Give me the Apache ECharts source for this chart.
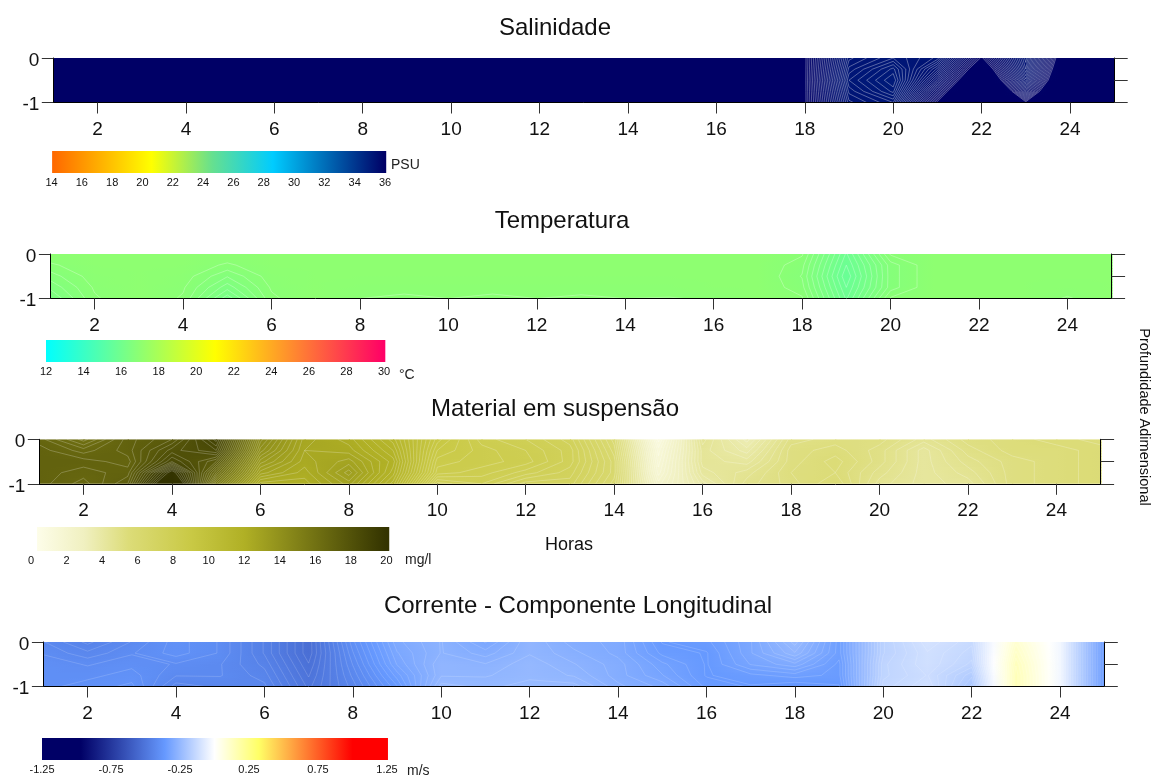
<!DOCTYPE html>
<html><head><meta charset="utf-8">
<style>html,body{margin:0;padding:0;background:#fff}#c{width:1152px;height:778px}</style>
<script src="https://cdn.jsdelivr.net/npm/echarts@6/dist/echarts.min.js"></script>
</head><body><div id="c"></div>
<script>
const hours = [1,2,3,4,5,6,7,8,9,10,11,12,13,14,15,16,17,18,19,20,21,22,23,24,25];
const depths = [0,-0.25,-0.5,-0.75,-1];
const hourTicks = [2,4,6,8,10,12,14,16,18,20,22,24];

const salinityByHour = [
[36,36,36,36,36],[36,36,36,36,36],[36,36,36,36,36],[36,36,36,36,36],[36,36,36,36,36],
[36,36,36,36,36],[36,36,36,36,36],[36,36,36,36,36],[36,36,36,36,36],[36,36,36,36,36],
[36,36,36,36,36],[36,36,36,36,36],[36,36,36,36,36],[36,36,36,36,36],[36,36,36,36,36],
[36,36,36,36,36],[36,36,36,36,36],[36,36,36,36,36],
[35.3,35.25,35.2,35.25,35.3],[35.2,35.1,35.05,35.1,35.2],[35.3,35.45,35.6,35.8,36],
[36,36.2,36.4,36.6,36.8],[35.3,35.35,35.45,35.7,36],[36.3,36.4,36.5,36.6,36.7],[36.4,36.4,36.5,36.6,36.7]];

const temperatureByHour = [
[17,16.85,16.7,16.55,16.4],[17,17,16.95,16.9,16.86],[17,17,17,17,17],[17,17,16.95,16.9,16.86],
[17,16.85,16.65,16.45,16.2],[17,17,16.95,16.9,16.85],[17,17,17,17,17],[17,17,17,16.95,16.88],
[17,17,17,16.94,16.84],[17,17,17,16.95,16.88],[17,17,17,16.94,16.84],[17,17,17,16.95,16.88],
[17,17,17,16.94,16.85],[17,17,17,16.95,16.88],[17,17,17,16.95,16.87],[17,17,17,17,16.9],
[17,17,17,17,17],[16.9,16.8,16.75,16.8,16.9],[15.9,15.8,15.7,15.8,15.9],[16.9,16.7,16.7,16.7,16.9],
[17,17,17,17,17],[17,17,17,17,17],[17,17,17,17,17],[17,17,17,16.96,16.86],[17,17,17,17,17]];

const suspendedByHour = [
[16.8,17,17,17,17],[16,16.6,17,16.8,16.6],[17,17,16.8,17,17.3],[17.5,18,18.5,20.2,21.5],
[19,18.5,17.5,16.5,15.5],[14.4,14,13.4,12.8,12],[12.6,12.5,12.4,12.2,12],[12.2,12.4,12.8,13.2,12.8],
[11.2,11.5,11.8,11.6,11.2],[9.2,8.9,8.6,8.4,7.6],[8.2,8.4,8.4,8.2,7.9],[7.9,8.1,8.2,7.8,7.2],
[7.4,7.6,7.6,7.4,7.2],[5.8,6,6.2,6.2,6],[1,1.4,1.6,1.8,2.2],[4.6,4.4,4.4,4.2,3.8],
[3.4,3.8,4.2,4.6,4.8],[5,5.2,5.2,5.3,5.2],[5.2,5.4,5.6,5.5,5.7],[5.2,5,5,4.8,4.6],
[4.6,4.2,4.2,4.2,4.2],[5.2,5,4.8,4.6,4.4],[5.4,5.4,5.2,5.2,5.2],[5.6,5.4,5.4,5.4,5.4],[5.4,5.6,5.6,5.6,5.6]];

const currentByHour = [
[-.42,-.41,-.4,-.4,-.4],[-.45,-.43,-.41,-.4,-.39],[-.42,-.41,-.4,-.39,-.38],[-.39,-.39,-.41,-.42,-.44],
[-.41,-.41,-.42,-.42,-.43],[-.46,-.46,-.45,-.44,-.43],[-.53,-.53,-.52,-.51,-.5],[-.4,-.41,-.42,-.43,-.44],
[-.3,-.31,-.32,-.34,-.36],[-.27,-.27,-.26,-.26,-.24],[-.31,-.29,-.27,-.26,-.25],[-.26,-.26,-.25,-.25,-.24],
[-.29,-.28,-.27,-.26,-.24],[-.3,-.3,-.29,-.29,-.28],[-.36,-.35,-.33,-.32,-.3],[-.35,-.36,-.36,-.36,-.35],
[-.31,-.31,-.32,-.35,-.36],[-.24,-.26,-.3,-.34,-.37],[-.34,-.34,-.35,-.35,-.36],[-.16,-.16,-.15,-.15,-.14],
[-.1,-.11,-.11,-.12,-.11],[-.13,-.14,-.15,-.18,-.2],[.1,.12,.14,.15,.15],[-.03,-.03,-.03,-.03,-.03],[-.36,-.36,-.36,-.36,-.36]];

const salinityRamp = [[14,'#ff6600'],[20.6,'#ffff00'],[24.6,'#66e08f'],[28.6,'#00ccff'],[36,'#000066']];
const temperatureRamp = [[12,'#00ffff'],[21,'#ffff00'],[30,'#ff0066']];
const suspendedRamp = [[0,'#ffffee'],[3,'#f0f0c0'],[5.5,'#dcdc78'],[9,'#c9c945'],[12,'#b0b025'],[20,'#333300']];
const currentRamp = [[-1.25,'#000066'],[-.97,'#000066'],[-.36,'#6699ff'],[0,'#ffffff'],[.32,'#ffff66'],[1,'#ff0000'],[1.25,'#ff0000']];

const salinityLegendTicks = [14,16,18,20,22,24,26,28,30,32,34,36];
const temperatureLegendTicks = [12,14,16,18,20,22,24,26,28,30];
const suspendedLegendTicks = [0,2,4,6,8,10,12,14,16,18,20];
const currentLegendTicks = [-1.25,-0.75,-0.25,0.25,0.75,1.25];

const panels = [
 {title:'Salinidade', cx:555, ty:29, data:salinityByHour, ramp:salinityRamp, ticks:salinityLegendTicks, unit:'PSU',
  g:[53.3,58,1060.9,44.5], tail:13.5, lg:[51.5,151,333.5,22], bar:[14.04,36.08],
  u:[391,165], base:36.01, step:.03, top:35.99, alpha:.38, lw:.9, dec:0},
 {title:'Temperatura', cx:562, ty:222, data:temperatureByHour, ramp:temperatureRamp, ticks:temperatureLegendTicks, unit:'°C',
  g:[50.4,254,1061.2,44.5], tail:13.5, lg:[46,340,338,22], bar:[12,30.07],
  u:[399,375], base:17, step:.12, top:16.95, alpha:.4, lw:.7, dec:0},
 {title:'Material em suspensão', cx:555, ty:410, data:suspendedByHour, ramp:suspendedRamp, ticks:suspendedLegendTicks, unit:'mg/l',
  g:[39.3,439.3,1061.3,44.5], tail:13.5, lg:[31,527,355.4,24], bar:[0.34,20.16],
  u:[405,560], base:.1, step:.2, top:19.99, alpha:.33, lw:.7, dec:0},
 {title:'Corrente - Componente Longitudinal', cx:578, ty:607, data:currentByHour, ramp:currentRamp, ticks:currentLegendTicks, unit:'m/s',
  g:[43.4,642,1060.9,44.5], tail:13.5, lg:[42,738,345,22], bar:[-1.25,1.257],
  u:[407,771], base:.004, step:.0125, top:1.25, alpha:.22, lw:.7, dec:2}
];

function hex(c){return [parseInt(c.slice(1,3),16),parseInt(c.slice(3,5),16),parseInt(c.slice(5,7),16)];}
function colorAt(ramp,v){
  if(v<=ramp[0][0]) return ramp[0][1];
  for(let i=1;i<ramp.length;i++){
    if(v<=ramp[i][0]){
      const t=(v-ramp[i-1][0])/(ramp[i][0]-ramp[i-1][0]),a=hex(ramp[i-1][1]),b=hex(ramp[i][1]);
      return 'rgb('+a.map((x,k)=>Math.round(x+(b[k]-x)*t)).join(',')+')';
    }
  }
  return ramp[ramp.length-1][1];
}
const STRIPS=4, TONES=[0,.25,.5,.75,1];
function cellItems(p){
  const out=[];
  for(let i=0;i<hours.length-1;i++)for(let j=0;j<depths.length-1;j++)out.push([hours[i],depths[j],p.data[i][j],i,j]);
  return out;
}
function fillRenderer(p){
  return function(params,api){
    const i=api.value(3),j=api.value(4);
    const tl=api.coord([hours[i],depths[j]]),br=api.coord([hours[i+1],depths[j+1]]);
    const kids=[],d=p.data;
    for(let s=0;s<STRIPS;s++){
      const f=(s+.5)/STRIPS;
      const L=d[i][j]+(d[i][j+1]-d[i][j])*f,R=d[i+1][j]+(d[i+1][j+1]-d[i+1][j])*f;
      const y0=tl[1]+(br[1]-tl[1])*s/STRIPS,h=(br[1]-tl[1])/STRIPS;
      kids.push({type:'rect',silent:true,
        shape:{x:tl[0],y:y0,width:br[0]-tl[0]+1,height:h+1},
        style:{fill:{type:'linear',global:true,x:tl[0],y:0,x2:br[0],y2:0,
          colorStops:TONES.map(t=>({offset:t,color:colorAt(p.ramp,L+(R-L)*t)}))}}});
    }
    return {type:'group',children:kids};
  };
}
function contourRenderer(p){
  return function(params,api){
    const i=api.value(3),j=api.value(4),d=p.data;
    const tl=api.coord([hours[i],depths[j]]),br=api.coord([hours[i+1],depths[j+1]]);
    const a=d[i][j],b=d[i+1][j],c=d[i+1][j+1],e=d[i][j+1];
    const lo=Math.min(a,b,c,e),hi=Math.max(a,b,c,e);
    const kids=[],W=br[0]-tl[0],H=br[1]-tl[1];
    const k0=Math.ceil((lo-p.base)/p.step),k1=Math.floor((hi-p.base)/p.step);
    for(let k=k0;k<=k1;k++){
      const L=p.base+k*p.step;
      if(L>p.top) continue;
      const pts=[];
      if((a<L)!==(b<L)) pts.push([tl[0]+W*(L-a)/(b-a),tl[1]]);
      if((b<L)!==(c<L)) pts.push([br[0],tl[1]+H*(L-b)/(c-b)]);
      if((e<L)!==(c<L)) pts.push([tl[0]+W*(L-e)/(c-e),br[1]]);
      if((a<L)!==(e<L)) pts.push([tl[0],tl[1]+H*(L-a)/(e-a)]);
      for(let q=0;q+1<pts.length;q+=2){
        kids.push({type:'line',silent:true,
          shape:{x1:pts[q][0],y1:pts[q][1],x2:pts[q+1][0],y2:pts[q+1][1]},
          style:{stroke:'rgba(255,255,255,'+p.alpha+')',lineWidth:p.lw,fill:null}});
      }
    }
    return {type:'group',children:kids};
  };
}
function barRenderer(p){
  return function(params,api){
    const s=api.coord([api.value(0),1]),t=api.coord([api.value(1),0]);
    const v0=api.value(0),v1=api.value(1);
    const stops=[{offset:0,color:colorAt(p.ramp,v0)}];
    p.ramp.forEach(r=>{if(r[0]>v0&&r[0]<v1)stops.push({offset:(r[0]-v0)/(v1-v0),color:r[1]});});
    stops.push({offset:1,color:colorAt(p.ramp,v1)});
    return {type:'rect',silent:true,shape:{x:s[0],y:s[1],width:t[0]-s[0],height:t[1]-s[1]},
      style:{fill:{type:'linear',x:0,y:0,x2:1,y2:0,colorStops:stops}}};
  };
}

const FONT='"Liberation Sans", Arial, sans-serif', INK='#111';
const grid=[],xAxis=[],yAxis=[],series=[],title=[],graphic=[];
panels.forEach(p=>{
  const gi=grid.length;
  grid.push({left:p.g[0],top:p.g[1],width:p.g[2],height:p.g[3],containLabel:false,show:false});
  xAxis.push({type:'value',gridIndex:gi,min:1,max:25,position:'bottom',z:6,
    axisLine:{show:true,onZero:false,lineStyle:{color:'#000',width:1}},
    axisTick:{show:true,length:11,inside:false,customValues:hourTicks,lineStyle:{color:'#333',width:1}},
    axisLabel:{show:true,customValues:hourTicks,margin:17.5,fontFamily:FONT,fontSize:19,color:INK},
    splitLine:{show:false}});
  const xi=xAxis.length-1;
  yAxis.push({type:'value',gridIndex:gi,min:-1,max:0,interval:1,position:'left',z:6,
    axisLine:{show:true,onZero:false,lineStyle:{color:'#000',width:1}},
    axisTick:{show:true,length:11.5,lineStyle:{color:'#333',width:1}},
    axisLabel:{show:true,margin:14,verticalAlign:'top',lineHeight:5,fontFamily:FONT,fontSize:19,color:INK},
    splitLine:{show:false}});
  const yi=yAxis.length-1;
  yAxis.push({type:'value',gridIndex:gi,min:-1,max:0,interval:.5,position:'right',z:6,
    axisLine:{show:true,onZero:false,lineStyle:{color:'#000',width:1}},
    axisTick:{show:true,length:p.tail,lineStyle:{color:'#333',width:1}},
    axisLabel:{show:false},splitLine:{show:false}});
  const items=cellItems(p);
  series.push({type:'custom',coordinateSystem:'cartesian2d',xAxisIndex:xi,yAxisIndex:yi,clip:true,z:2,
    animation:false,silent:true,data:items,encode:{x:0,y:1},renderItem:fillRenderer(p)});
  series.push({type:'custom',coordinateSystem:'cartesian2d',xAxisIndex:xi,yAxisIndex:yi,clip:true,z:3,
    animation:false,silent:true,data:items,encode:{x:0,y:1},renderItem:contourRenderer(p)});

  const li=grid.length;
  grid.push({left:p.lg[0],top:p.lg[1],width:p.lg[2],height:p.lg[3],containLabel:false,show:false});
  xAxis.push({type:'value',gridIndex:li,min:p.ticks[0],max:p.ticks[p.ticks.length-1],position:'bottom',
    axisLine:{show:false},axisTick:{show:false},splitLine:{show:false},
    axisLabel:{show:true,customValues:p.ticks,margin:4,fontFamily:FONT,fontSize:11,color:INK,
      formatter:v=>Number(v).toFixed(p.dec)}});
  const lxi=xAxis.length-1;
  yAxis.push({type:'value',gridIndex:li,min:0,max:1,show:false,splitLine:{show:false}});
  const lyi=yAxis.length-1;
  series.push({type:'custom',coordinateSystem:'cartesian2d',xAxisIndex:lxi,yAxisIndex:lyi,clip:false,z:2,
    animation:false,silent:true,data:[p.bar],encode:{x:[0,1]},renderItem:barRenderer(p)});

  title.push({text:p.title,left:p.cx,top:p.ty-13,textAlign:'center',padding:0,
    textStyle:{fontFamily:FONT,fontSize:24,fontWeight:'normal',color:INK}});
  graphic.push({type:'text',x:p.u[0],y:p.u[1],silent:true,
    style:{text:p.unit,fontFamily:FONT,fontSize:14,fill:'#222',textVerticalAlign:'middle',verticalAlign:'middle'}});
});
graphic.push({type:'text',x:569,y:545,silent:true,
  style:{text:'Horas',fontFamily:FONT,fontSize:18,fill:INK,align:'center',verticalAlign:'middle'}});
graphic.push({type:'text',x:1144,y:417,rotation:-Math.PI/2,silent:true,
  style:{text:'Profundidade Adimensional',fontFamily:FONT,fontSize:14.5,fill:INK,align:'center',verticalAlign:'middle'}});

const chart=echarts.init(document.getElementById('c'),null,{renderer:'canvas'});
chart.setOption({animation:false,backgroundColor:'#fff',title,grid,xAxis,yAxis,series,graphic});
</script></body></html>
